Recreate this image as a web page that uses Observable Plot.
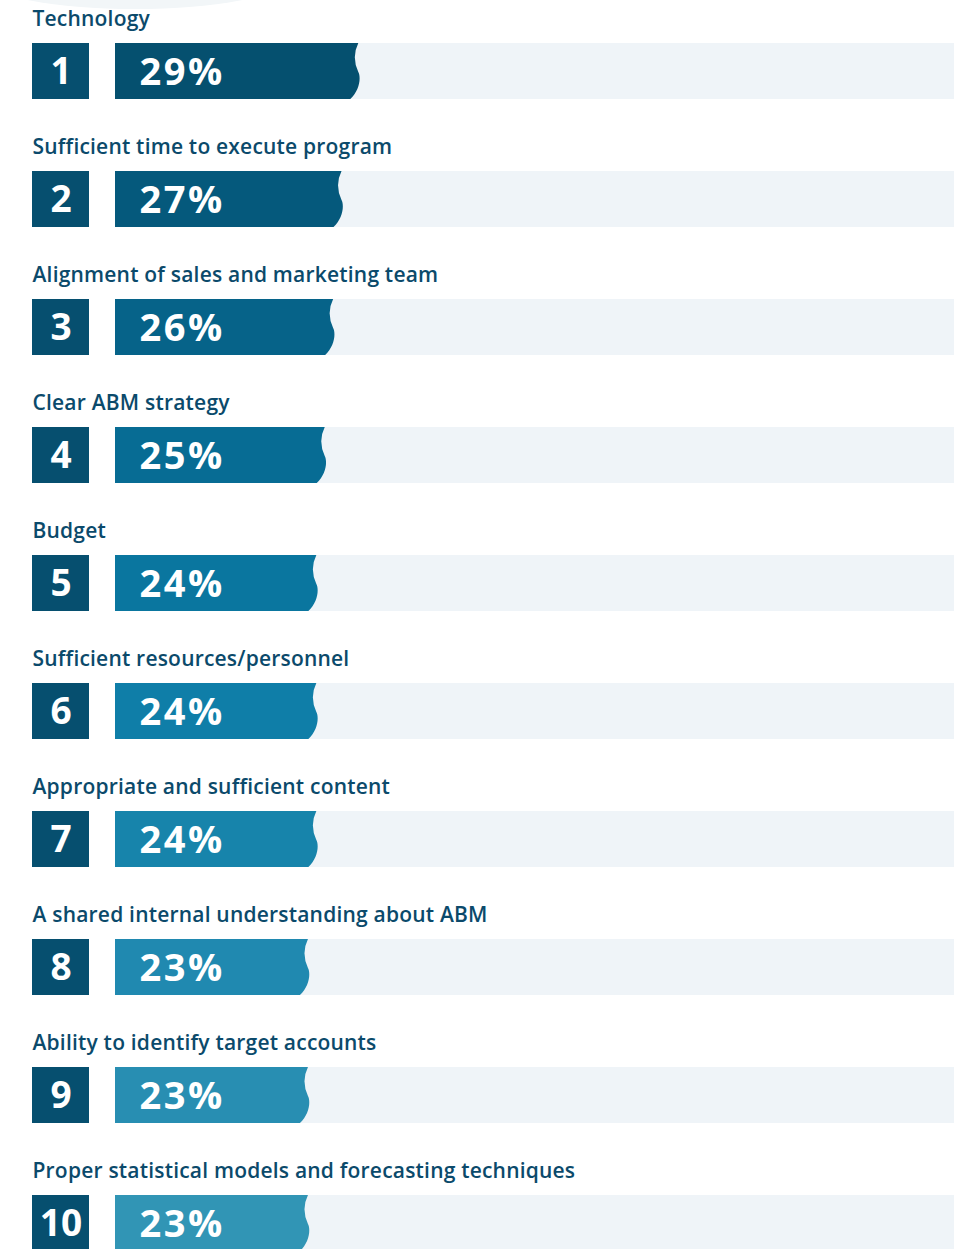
<!DOCTYPE html>
<html>
<head>
<meta charset="utf-8">
<script src="https://cdn.jsdelivr.net/npm/d3@7"></script>
<script src="https://cdn.jsdelivr.net/npm/@observablehq/plot@0.6"></script>
<style>
  html, body { margin: 0; padding: 0; background: #ffffff; }
  #wrap { position: relative; width: 964px; overflow: hidden; }
  #deco { position: absolute; left: -15px; top: -51px; width: 300px; height: 60px; border-radius: 50%; background: #f2f6f8; z-index: 0; }
  #chart { position: relative; z-index: 1; }
  #chart svg text { font-variant-ligatures: none; }
  #chart svg g.pct text { letter-spacing: 2.5px; }
  #chart svg g.lbl text { letter-spacing: 0.2px; }
</style>
</head>
<body>
<div id="wrap"><div id="deco"></div><div id="chart"></div></div>
<script>
const ranks = [1, 2, 3, 4, 5, 6, 7, 8, 9, 10];
const labels = [
  "Technology",
  "Sufficient time to execute program",
  "Alignment of sales and marketing team",
  "Clear ABM strategy",
  "Budget",
  "Sufficient resources/personnel",
  "Appropriate and sufficient content",
  "A shared internal understanding about ABM",
  "Ability to identify target accounts",
  "Proper statistical models and forecasting techniques"
];
const values = [29, 27, 26, 25, 24, 24, 24, 23, 23, 23];
const barColors = ["#05506f", "#05597c", "#066389", "#076c94", "#0a769f", "#0f7ea8", "#1784ab", "#2089b0", "#288eb2", "#3195b5"];

const rows = ranks.map((r, i) => ({rank: r, label: labels[i], value: values[i], color: barColors[i]}));

// layout helpers (pixel -> data units through the same linear mapping as the x scale)
const xRange = [115, 954];
const px = d3.scaleLinear().domain([0, 100]).range(xRange);
const boxX1 = px.invert(32), boxX2 = px.invert(89), boxMid = px.invert(60.5);
const pctX = px.invert(139), labelX = px.invert(32);

const chart = Plot.plot({
  width: 964,
  height: 1262,
  marginTop: 0, marginBottom: 0, marginLeft: 0, marginRight: 0,
  x: {domain: [0, 100], range: xRange, axis: null},
  y: {type: "band", domain: ranks, range: [43, 1251], paddingInner: 0.5625, paddingOuter: 0, axis: null},
  color: {type: "identity"},
  style: {fontFamily: "'Open Sans', Lato, sans-serif", background: "transparent", overflow: "visible"},
  marks: [
    Plot.barX(rows, {x1: 0, x2: 100, y: "rank", fill: "#eff4f8"}),
    Plot.barX(rows, {x1: 0, x2: "value", y: "rank", fill: "color"}),
    Plot.barX(rows, {x1: boxX1, x2: boxX2, y: "rank", fill: "#064f6f"}),
    Plot.text(rows, {x: boxMid, y: "rank", text: d => String(d.rank), fill: "white", fontSize: 37, fontWeight: 700, dy: 1}),
    Plot.text(rows, {x: pctX, y: "rank", text: d => d.value + "%", textAnchor: "start", fill: "white", fontSize: 38, fontWeight: 700, dy: 1, className: "pct"}),
    Plot.text(rows, {x: labelX, y: "rank", text: "label", textAnchor: "start", lineAnchor: "bottom", dy: -46, fill: "#0b4a6b", fontSize: 21, fontWeight: 600, className: "lbl"})
  ]
});

// tag the text groups for letter-spacing (fallback if className is unsupported)
const textGroups = d3.select(chart).selectAll('g[aria-label="text"]').nodes();
if (textGroups.length === 3) {
  textGroups[1].classList.add("pct");
  textGroups[2].classList.add("lbl");
}

// give the value bars their wavy right edge
const colorSet = new Set(barColors);
d3.select(chart).selectAll("rect").each(function() {
  const r = d3.select(this);
  if (!colorSet.has(r.attr("fill"))) return;
  const x = +r.attr("x"), y = +r.attr("y"), w = +r.attr("width"), h = +r.attr("height");
  const R = x + w;
  const d = `M${x},${y}H${R}` +
    `Q${R - 7},${y + h * 0.25} ${R},${y + h * 0.52}` +
    `C${R + 3},${y + h * 0.62} ${R + 1},${y + h * 0.85} ${R - 8},${y + h}` +
    `H${x}Z`;
  const p = document.createElementNS("http://www.w3.org/2000/svg", "path");
  p.setAttribute("d", d);
  p.setAttribute("fill", r.attr("fill"));
  this.parentNode.insertBefore(p, this);
  this.parentNode.removeChild(this);
});

document.getElementById("chart").appendChild(chart);
</script>
</body>
</html>
